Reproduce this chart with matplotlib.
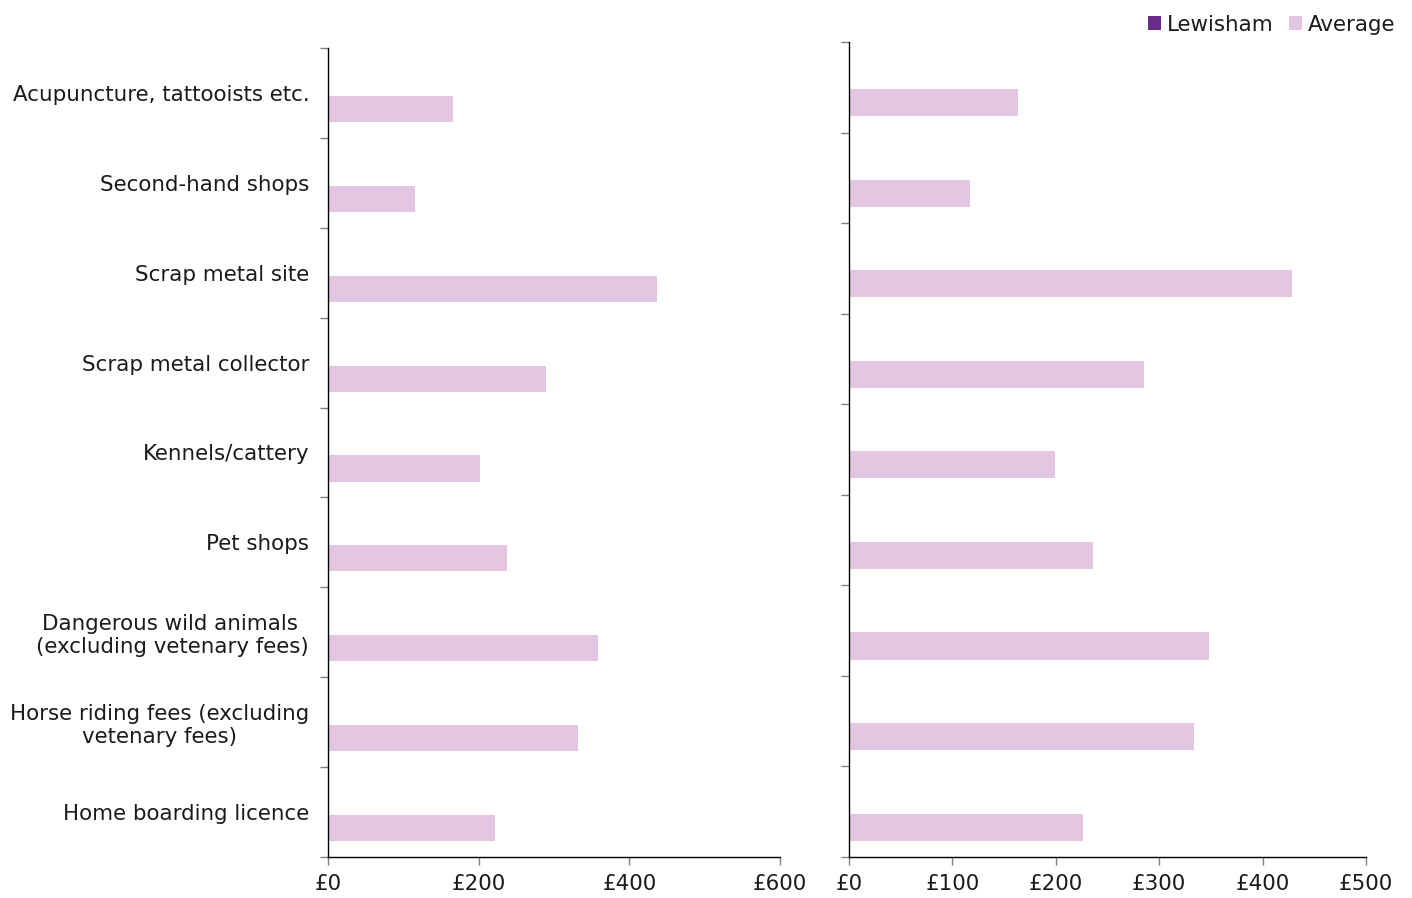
import matplotlib
matplotlib.use("Agg")
import matplotlib.pyplot as plt
from matplotlib.patches import Patch
import numpy as np

categories = [
    "Acupuncture, tattooists etc.",
    "Second-hand shops",
    "Scrap metal site",
    "Scrap metal collector",
    "Kennels/cattery",
    "Pet shops",
    "Dangerous wild animals \n(excluding vetenary fees)",
    "Horse riding fees (excluding\nvetenary fees)",
    "Home boarding licence",
]
left_lewisham = [0, 0, 0, 0, 0, 0, 0, 0, 0]
left_average = [166, 115, 437, 289, 202, 238, 358, 332, 222]
right_lewisham = [0, 0, 0, 0, 0, 0, 0, 0, 0]
right_average = [163, 117, 428, 285, 199, 236, 348, 334, 226]
left_ticks = [0, 200, 400, 600]
right_ticks = [0, 100, 200, 300, 400, 500]

LEW = "#6A2C8C"
AVG = "#E3C6E2"
FS = 15.4

plt.rcParams['font.family'] = ['DejaVu Sans']
W, H = 1412, 898
fig = plt.figure(figsize=(W / 100, H / 100), dpi=100)

axL = fig.add_axes([328 / W, 1 - 857 / H, (780 - 328) / W, (857 - 48) / H])
axR = fig.add_axes([849 / W, 1 - 857 / H, (1366 - 849) / W, (857 - 42) / H])

y = np.arange(len(categories))

def style(ax, lew, avg, ticks, labels, off, h):
    ax.barh(y - off, lew, height=h, color=LEW)
    ax.barh(y + off, avg, height=h, color=AVG)
    ax.set_ylim(len(categories) - 0.5, -0.5)
    ax.set_xlim(ticks[0], ticks[-1])
    ax.set_xticks(ticks)
    ax.set_xticklabels([f"£{t}" for t in ticks], fontsize=FS, color='#1a1a1a')
    ax.set_yticks(np.arange(len(categories) + 1) - 0.5, minor=False)
    ax.set_yticklabels([])
    ax.set_yticks(y, minor=True)
    if labels:
        ax.set_yticklabels(categories, minor=True, fontsize=FS, ha='right',
                           multialignment='center', color='#1a1a1a')
    ax.tick_params(axis='y', which='minor', length=0, pad=13.5)
    ax.tick_params(axis='y', which='major', length=6, color='#808080', width=1)
    ax.tick_params(axis='x', length=6, color='#808080', width=1, pad=6)
    for s in ['top', 'right']:
        ax.spines[s].set_visible(False)
    for s in ['left', 'bottom']:
        ax.spines[s].set_color('black')
        ax.spines[s].set_linewidth(1)

style(axL, left_lewisham, left_average, left_ticks, True, 0.178, 0.29)
style(axR, right_lewisham, right_average, right_ticks, False, 0.17, 0.3)

handles = [Patch(facecolor=LEW, label="Lewisham"), Patch(facecolor=AVG, label="Average")]
fig.legend(handles=handles, loc='upper right', bbox_to_anchor=(1404 / W, 1 - 6 / H), ncol=2,
           frameon=False, fontsize=FS, handlelength=0.6, handleheight=0.6,
           handletextpad=0.3, columnspacing=0.7, borderaxespad=0, labelcolor='#1a1a1a')

fig.savefig("out.png", dpi=100)
